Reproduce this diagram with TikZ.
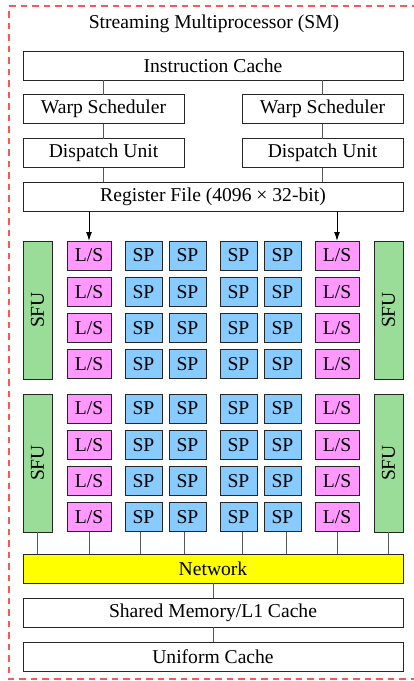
\documentclass[tikz,border=0pt]{standalone}
\usepackage{fontspec}
\setmainfont{Liberation Serif}
\usetikzlibrary{arrows.meta}
\definecolor{lscol}{HTML}{FF99FF}
\definecolor{spcol}{HTML}{88CCFF}
\definecolor{sfucol}{HTML}{99DD99}
\definecolor{netcol}{HTML}{FFFF00}
\definecolor{smborder}{HTML}{FF5555}
\begin{document}
\begin{tikzpicture}[x=1pt,y=-1pt,
  font=\fontsize{19.6}{23}\selectfont,
  unit/.style={draw=black!85, line width=1pt, inner sep=0pt, outer sep=0pt, anchor=center},
  wide/.style={unit, fill=white, minimum height=29pt},
  lsbox/.style={unit, fill=lscol, minimum width=44pt, minimum height=29pt},
  spbox/.style={unit, fill=spcol, minimum width=37pt, minimum height=29pt},
  sfubox/.style={unit, fill=sfucol, minimum width=29pt, minimum height=138pt},
  netbox/.style={unit, fill=netcol, minimum width=380pt, minimum height=29pt},
  link/.style={draw=black!65, line width=1pt},
  feed/.style={draw=black, line width=1pt, -{Latex[length=9pt,width=6pt]}},
  smframe/.style={draw=smborder, line width=1.2pt, dash pattern=on 6.5pt off 5pt}]

\useasboundingbox (0,0) rectangle (414,681);

% dashed outline of the multiprocessor (right edge runs off the page)
\draw[smframe] (418,6) -- (9,6) -- (9,679) -- (418,679);
\node (title) at (214,24) {Streaming Multiprocessor (SM)};

% front end
\node[wide, minimum width=380pt] (icache) at (213,65.5) {Instruction Cache};
\node[wide, minimum width=161pt] (ws1) at (103.5,109) {Warp Scheduler};
\node[wide, minimum width=161pt] (ws2) at (322.5,109) {Warp Scheduler};
\node[wide, minimum width=161pt] (du1) at (103.5,153) {Dispatch Unit};
\node[wide, minimum width=161pt] (du2) at (322.5,153) {Dispatch Unit};
\node[wide, minimum width=380pt] (rf) at (213,196.5) {Register File (4096 × 32-bit)};

\draw[link] (ws1.north |- icache.south) -- (ws1.north);
\draw[link] (ws2.north |- icache.south) -- (ws2.north);
\draw[link] (ws1) -- (du1);
\draw[link] (ws2) -- (du2);
\draw[link] (du1.south) -- (du1.south |- rf.north);
\draw[link] (du2.south) -- (du2.south |- rf.north);

% two blocks of execution units
\foreach \b/\y in {1/255.5, 2/408.5} {
  \foreach \r in {1,...,4} {
    \pgfmathsetmacro{\cy}{\y+36.3*(\r-1)}
    \node[lsbox] (lsl-\b-\r) at (89,\cy) {L/S};
    \node[spbox] (spa-\b-\r) at (143.5,\cy) {SP};
    \node[spbox] (spb-\b-\r) at (187.5,\cy) {SP};
    \node[spbox] (spc-\b-\r) at (238.5,\cy) {SP};
    \node[spbox] (spd-\b-\r) at (282.5,\cy) {SP};
    \node[lsbox] (lsr-\b-\r) at (337,\cy) {L/S};
  }
}
\node[sfubox] (sful-1) at (37.5,310) {\rotatebox{90}{SFU}};
\node[sfubox] (sfur-1) at (388.5,310) {\rotatebox{90}{SFU}};
\node[sfubox] (sful-2) at (37.5,463) {\rotatebox{90}{SFU}};
\node[sfubox] (sfur-2) at (388.5,463) {\rotatebox{90}{SFU}};

\draw[feed] (rf.south -| lsl-1-1.north) -- (lsl-1-1.north);
\draw[feed] (rf.south -| lsr-1-1.north) -- (lsr-1-1.north);

% interconnect and memory
\node[netbox] (net) at (213,568.5) {Network};
\node[wide, minimum width=380pt] (smem) at (213,612.5) {Shared Memory/L1 Cache};
\node[wide, minimum width=380pt] (ucache) at (213,656.5) {Uniform Cache};

\draw[link] (sful-2.south) -- (sful-2.south |- net.north);
\draw[link] (lsl-2-4.south) -- (lsl-2-4.south |- net.north);
\draw[link] ([xshift=-3.5pt]spa-2-4.south) -- ([xshift=-3.5pt]spa-2-4.south |- net.north);
\draw[link] ([xshift=-3.5pt]spb-2-4.south) -- ([xshift=-3.5pt]spb-2-4.south |- net.north);
\draw[link] ([xshift=3.5pt]spc-2-4.south) -- ([xshift=3.5pt]spc-2-4.south |- net.north);
\draw[link] ([xshift=3.5pt]spd-2-4.south) -- ([xshift=3.5pt]spd-2-4.south |- net.north);
\draw[link] (lsr-2-4.south) -- (lsr-2-4.south |- net.north);
\draw[link] (sfur-2.south) -- (sfur-2.south |- net.north);
\draw[link] (net) -- (smem);
\draw[link] (smem) -- (ucache);
\end{tikzpicture}
\end{document}
